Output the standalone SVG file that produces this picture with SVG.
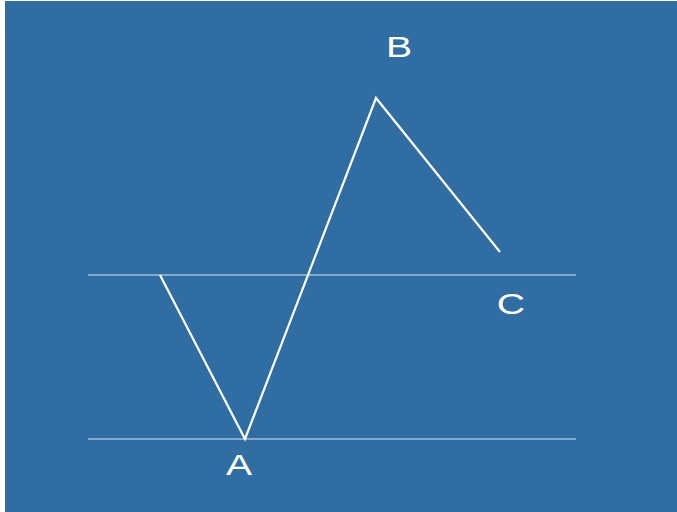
<svg xmlns="http://www.w3.org/2000/svg" width="677" height="512" viewBox="0 0 677 512">
<style>
.lvl{stroke:#ffffff;stroke-opacity:0.55;stroke-width:1.5;fill:none}
.wave{stroke:#ffffff;stroke-width:2.2;fill:none;stroke-linejoin:miter}
.lbl{font-family:"Liberation Sans",Arial,sans-serif;font-size:29px;fill:#ffffff;text-anchor:middle}
</style>
<rect x="0" y="0" width="677" height="512" fill="#ffffff"/>
<rect x="5" y="1" width="672" height="511" fill="#2f6da3"/>
<g id="connectors">
<line class="lvl" x1="88" y1="275" x2="576" y2="275"/>
<line class="lvl" x1="88" y1="439" x2="576" y2="439"/>
<polyline class="wave" points="160,275 245,439 376,98 500,252"/>
</g>
<g id="nodeB"><text class="lbl" transform="translate(399,57) scale(1.35,1)">B</text></g>
<g id="nodeA"><text class="lbl" transform="translate(239,475) scale(1.35,1)">A</text></g>
<g id="nodeC"><text class="lbl" transform="translate(511,314) scale(1.35,1)">C</text></g>
</svg>
